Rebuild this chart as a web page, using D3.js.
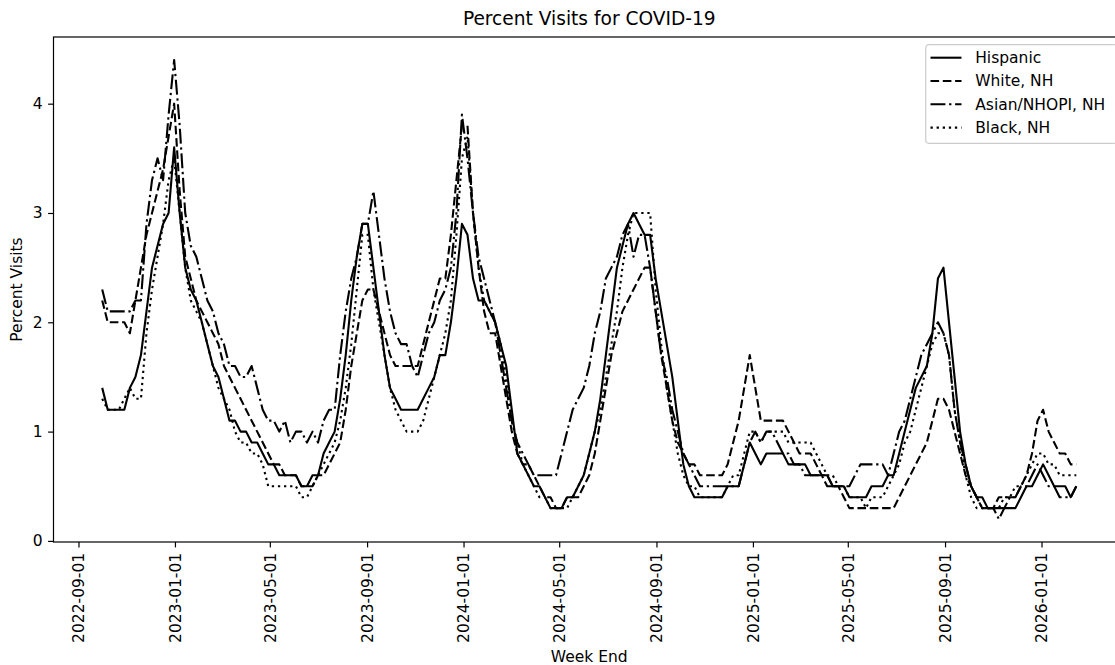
<!DOCTYPE html>
<html>

<head>
  <meta charset="utf-8">
  <script src="https://d3js.org/d3.v7.min.js"></script>
  <style>
    body {
      margin: 0;
      background: #ffffff;
    }

    text {
      font-family: "DejaVu Sans", sans-serif;
      fill: #000;
    }
  </style>
</head>

<body>
  <div id="chart"></div>
  <script>
    // week ending dates (Saturdays)
    const firstWeekEnd = "2022-10-01";
    const lastWeekEnd = "2026-02-14";

    const seriesNames = ["Hispanic", "White, NH", "Asian/NHOPI, NH", "Black, NH"];

    const hispanic = [
      1.4, 1.2, 1.2, 1.2, 1.2, 1.4, 1.5, 1.7, 2.1, 2.5,
      2.7, 2.9, 3.0, 3.6, 3.0, 2.5, 2.3, 2.2, 2.0, 1.8,
      1.6, 1.5, 1.3, 1.1, 1.1, 1.0, 1.0, 0.9, 0.9, 0.8,
      0.7, 0.7, 0.6, 0.6, 0.6, 0.6, 0.5, 0.5, 0.6, 0.6,
      0.8, 0.9, 1.0, 1.3, 1.7, 2.2, 2.6, 2.9, 2.9, 2.5,
      2.1, 1.7, 1.4, 1.3, 1.2, 1.2, 1.2, 1.2, 1.3, 1.4,
      1.5, 1.7, 1.7, 2.0, 2.4, 2.9, 2.8, 2.4, 2.2, 2.2,
      2.1, 2.0, 1.8, 1.6, 1.2, 0.8, 0.7, 0.6, 0.5, 0.5,
      0.4, 0.3, 0.3, 0.3, 0.4, 0.4, 0.5, 0.6, 0.8, 1.0,
      1.3, 1.7, 2.1, 2.5, 2.7, 2.9, 3.0, 2.9, 2.8, 2.8,
      2.4, 2.1, 1.8, 1.5, 1.1, 0.7, 0.5, 0.4, 0.4, 0.4,
      0.4, 0.4, 0.4, 0.5, 0.5, 0.5, 0.7, 0.9, 0.8, 0.7,
      0.8, 0.8, 0.8, 0.8, 0.7, 0.7, 0.7, 0.7, 0.6, 0.6,
      0.6, 0.6, 0.5, 0.5, 0.5, 0.4, 0.4, 0.4, 0.4, 0.5,
      0.5, 0.5, 0.6, 0.6, 0.8, 1.0, 1.2, 1.4, 1.5, 1.6,
      1.9, 2.4, 2.5, 2.0, 1.5, 1.0, 0.7, 0.5, 0.4, 0.4,
      0.3, 0.3, 0.3, 0.3, 0.3, 0.3, 0.4, 0.5, 0.5, 0.6,
      0.7, 0.6, 0.5, 0.5, 0.5, 0.4, 0.5
    ];

    const whiteNH = [
      2.2, 2.0, 2.0, 2.0, 2.0, 1.9, 2.2, 2.5, 2.8, 3.0,
      3.2, 3.4, 3.7, 4.0, 3.2, 2.6, 2.4, 2.2, 2.1, 2.0,
      1.9, 1.8, 1.6, 1.5, 1.4, 1.3, 1.2, 1.1, 1.0, 0.9,
      0.8, 0.7, 0.7, 0.6, 0.6, 0.6, 0.5, 0.5, 0.5, 0.6,
      0.6, 0.7, 0.8, 0.9, 1.2, 1.6, 1.9, 2.2, 2.3, 2.3,
      2.1, 1.9, 1.7, 1.6, 1.6, 1.6, 1.6, 1.6, 1.8, 2.0,
      2.2, 2.4, 2.4, 2.8, 3.3, 3.8, 3.8, 3.0, 2.5, 2.1,
      1.9, 1.9, 1.6, 1.3, 1.0, 0.8, 0.7, 0.7, 0.6, 0.5,
      0.4, 0.4, 0.3, 0.3, 0.4, 0.4, 0.4, 0.5, 0.6, 0.8,
      1.1, 1.4, 1.7, 1.9, 2.1, 2.2, 2.3, 2.4, 2.5, 2.5,
      2.1, 1.7, 1.4, 1.1, 0.9, 0.8, 0.7, 0.7, 0.6, 0.6,
      0.6, 0.6, 0.6, 0.7, 0.9, 1.1, 1.4, 1.7, 1.4, 1.1,
      1.1, 1.1, 1.1, 1.1, 1.0, 0.9, 0.8, 0.8, 0.8, 0.7,
      0.6, 0.6, 0.5, 0.5, 0.4, 0.3, 0.3, 0.3, 0.3, 0.3,
      0.3, 0.3, 0.3, 0.3, 0.4, 0.5, 0.6, 0.7, 0.8, 0.9,
      1.1, 1.3, 1.3, 1.2, 1.0, 0.8, 0.6, 0.5, 0.4, 0.3,
      0.3, 0.3, 0.4, 0.4, 0.4, 0.4, 0.5, 0.6, 0.8, 1.1,
      1.2, 1.0, 0.9, 0.8, 0.8, 0.7, 0.7
    ];

    const asianNHOPI = [
      2.3, 2.1, 2.1, 2.1, 2.1, 2.1, 2.2, 2.2, 2.9, 3.3,
      3.5, 3.3, 3.9, 4.4, 3.8, 3.0, 2.7, 2.6, 2.4, 2.2,
      2.1, 1.9, 1.8, 1.6, 1.6, 1.5, 1.5, 1.6, 1.4, 1.2,
      1.1, 1.1, 1.0, 1.1, 0.9, 1.0, 1.0, 0.9, 1.0, 0.9,
      1.1, 1.2, 1.2, 1.7, 2.1, 2.4, 2.6, 2.9, 2.9, 3.2,
      2.8, 2.4, 2.1, 1.9, 1.8, 1.8, 1.6, 1.5, 1.7, 1.9,
      2.0, 2.2, 2.3, 2.5, 3.0, 3.9, 3.5, 3.0, 2.6, 2.4,
      2.2, 2.0, 1.7, 1.4, 1.1, 0.9, 0.8, 0.7, 0.6, 0.6,
      0.6, 0.6, 0.6, 0.8, 1.0, 1.2, 1.3, 1.4, 1.6, 1.9,
      2.1, 2.4, 2.5, 2.6, 2.8, 2.9, 2.6, 2.8, 2.8, 2.5,
      2.1, 1.7, 1.5, 1.2, 1.0, 0.8, 0.7, 0.6, 0.5, 0.5,
      0.5, 0.5, 0.5, 0.5, 0.5, 0.5, 0.7, 0.9, 1.0, 0.9,
      1.0, 1.0, 0.9, 0.8, 0.8, 0.7, 0.7, 0.6, 0.6, 0.6,
      0.6, 0.5, 0.5, 0.5, 0.5, 0.5, 0.6, 0.7, 0.7, 0.7,
      0.7, 0.7, 0.6, 0.8, 1.0, 1.1, 1.3, 1.5, 1.7, 1.8,
      1.9, 2.0, 1.9, 1.7, 1.2, 0.9, 0.7, 0.5, 0.4, 0.3,
      0.3, 0.3, 0.2, 0.3, 0.4, 0.4, 0.5, 0.5, 0.6, 0.7,
      0.6, 0.5, 0.5, 0.4, 0.4, 0.4, 0.5
    ];

    const blackNH = [
      1.3, 1.2, 1.2, 1.2, 1.3, 1.4, 1.3, 1.3, 1.9, 2.3,
      2.6, 2.9, 3.3, 3.5, 3.0, 2.5, 2.2, 2.1, 2.0, 1.8,
      1.6, 1.4, 1.3, 1.2, 1.0, 0.9, 0.9, 0.8, 0.8, 0.7,
      0.5, 0.5, 0.5, 0.5, 0.5, 0.5, 0.4, 0.4, 0.5, 0.6,
      0.7, 0.8, 0.9, 1.1, 1.4, 1.8, 2.3, 2.8, 2.8, 2.3,
      2.0, 1.7, 1.4, 1.2, 1.1, 1.0, 1.0, 1.0, 1.1, 1.3,
      1.5, 1.7, 1.9, 2.2, 2.8, 3.5, 3.7, 3.0, 2.5, 2.2,
      2.1, 2.0, 1.8, 1.5, 1.1, 0.9, 0.7, 0.6, 0.5, 0.4,
      0.4, 0.3, 0.3, 0.3, 0.3, 0.4, 0.5, 0.6, 0.8, 1.0,
      1.2, 1.5, 1.8, 2.1, 2.5, 2.8, 3.0, 3.0, 3.0, 3.0,
      2.3, 1.8, 1.4, 1.1, 0.8, 0.6, 0.5, 0.5, 0.4, 0.4,
      0.4, 0.4, 0.4, 0.5, 0.6, 0.6, 0.8, 1.0, 1.0, 0.9,
      1.0, 1.0, 1.0, 1.0, 0.9, 0.9, 0.9, 0.9, 0.9, 0.8,
      0.7, 0.6, 0.6, 0.5, 0.5, 0.4, 0.4, 0.4, 0.3, 0.4,
      0.4, 0.4, 0.5, 0.6, 0.7, 0.9, 1.0, 1.2, 1.4, 1.6,
      1.8, 1.9, 1.9, 1.7, 1.2, 0.9, 0.6, 0.4, 0.3, 0.3,
      0.3, 0.3, 0.3, 0.4, 0.4, 0.5, 0.5, 0.6, 0.7, 0.8,
      0.8, 0.7, 0.7, 0.6, 0.6, 0.6, 0.6
    ];

    const yTicks = [0, 1, 2, 3, 4];
    const xTickLabels = ["2022-09-01", "2023-01-01", "2023-05-01", "2023-09-01", "2024-01-01",
      "2024-05-01", "2024-09-01", "2025-01-01", "2025-05-01", "2025-09-01", "2026-01-01"];

    // matplotlib-ish dash patterns (lw 1.5 at ~111 dpi)
    const dashes = ["none", "8.6,3.7", "14.9,3.7,2.3,3.7", "2.3,3.8"];

    var width = 1115,
      height = 665;
    var plot = { left: 53.5, right: 1125, top: 37, bottom: 542 };

    var parse = d3.utcParse("%Y-%m-%d");
    var weekEnds = d3.utcSaturday.range(parse(firstWeekEnd), d3.utcDay.offset(parse(lastWeekEnd), 1));

    var allSeries = [hispanic, whiteNH, asianNHOPI, blackNH];

    // 5% margins on both sides, like the default of the source plot
    var span = weekEnds[weekEnds.length - 1] - weekEnds[0];
    var x = d3.scaleUtc()
      .domain([new Date(+weekEnds[0] - span * 0.05), new Date(+weekEnds[weekEnds.length - 1] + span * 0.05)])
      .range([plot.left, plot.right]);

    var yMin = d3.min(allSeries, s => d3.min(s)),
      yMax = d3.max(allSeries, s => d3.max(s)),
      yPad = (yMax - yMin) * 0.05;
    var y = d3.scaleLinear()
      .domain([yMin - yPad, yMax + yPad])
      .range([plot.bottom, plot.top]);

    var svg = d3.select("#chart")
      .append("svg")
      .attr("width", width)
      .attr("height", height)
      .style("display", "block");

    svg.append("rect").attr("width", width).attr("height", height).attr("fill", "#fff");

    // Lines
    var line = d3.line()
      .x((d, i) => x(weekEnds[i]))
      .y(d => y(d));

    svg.append("g")
      .selectAll("path")
      .data(allSeries)
      .enter()
      .append("path")
      .attr("d", line)
      .attr("fill", "none")
      .attr("stroke", "#000")
      .attr("stroke-width", 2.1)
      .attr("stroke-dasharray", (d, i) => dashes[i])
      .attr("stroke-linejoin", "round");

    // X axis
    var xAxis = svg.append("g")
      .attr("transform", "translate(0," + plot.bottom + ")")
      .call(d3.axisBottom(x)
        .tickValues(xTickLabels.map(parse))
        .tickFormat(d3.utcFormat("%Y-%m-%d"))
        .tickSizeOuter(0)
        .tickSize(5.4)
        .tickPadding(5.4));
    xAxis.select(".domain").remove();
    xAxis.selectAll(".tick line").attr("stroke", "#000").attr("stroke-width", 1.2);
    xAxis.selectAll(".tick text")
      .attr("font-size", "15.5px")
      .attr("font-family", "DejaVu Sans")
      .attr("text-anchor", "end")
      .attr("dy", "0.35em")
      .attr("transform", "translate(0,10.8) rotate(-90)")
      .attr("x", 0)
      .attr("y", 0);

    // Y axis
    var yAxis = svg.append("g")
      .attr("transform", "translate(" + plot.left + ",0)")
      .call(d3.axisLeft(y)
        .tickValues(yTicks)
        .tickFormat(d3.format("d"))
        .tickSizeOuter(0)
        .tickSize(5.4)
        .tickPadding(5.4));
    yAxis.select(".domain").remove();
    yAxis.selectAll(".tick line").attr("stroke", "#000").attr("stroke-width", 1.2);
    yAxis.selectAll(".tick text")
      .attr("font-size", "15.5px")
      .attr("font-family", "DejaVu Sans");

    // Frame (right spine falls outside the picture)
    svg.append("rect")
      .attr("x", plot.left)
      .attr("y", plot.top)
      .attr("width", plot.right - plot.left)
      .attr("height", plot.bottom - plot.top)
      .attr("fill", "none")
      .attr("stroke", "#000")
      .attr("stroke-width", 1.2);

    // Titles
    var midX = (plot.left + plot.right) / 2;
    svg.append("text")
      .attr("x", midX)
      .attr("y", 25)
      .attr("text-anchor", "middle")
      .attr("font-size", "18.6px")
      .text("Percent Visits for COVID-19");

    svg.append("text")
      .attr("x", midX)
      .attr("y", 662)
      .attr("text-anchor", "middle")
      .attr("font-size", "15.5px")
      .text("Week End");

    svg.append("text")
      .attr("transform", "translate(22," + (plot.top + plot.bottom) / 2 + ") rotate(-90)")
      .attr("text-anchor", "middle")
      .attr("font-size", "15.5px")
      .text("Percent Visits");

    // Legend
    var legend = svg.append("g").attr("transform", "translate(925.7,44.7)");
    legend.append("rect")
      .attr("width", 191.6)
      .attr("height", 98.6)
      .attr("rx", 3)
      .attr("fill", "#fff")
      .attr("fill-opacity", 0.8)
      .attr("stroke", "#cccccc")
      .attr("stroke-width", 1.2);

    var rows = legend.selectAll("g.row")
      .data(seriesNames)
      .enter()
      .append("g")
      .attr("class", "row")
      .attr("transform", (d, i) => "translate(0," + (13 + i * 23.3) + ")");

    rows.append("line")
      .attr("x1", 4.8)
      .attr("x2", 35.8)
      .attr("stroke", "#000")
      .attr("stroke-width", 2.1)
      .attr("stroke-dasharray", (d, i) => dashes[i]);

    rows.append("text")
      .attr("x", 49.5)
      .attr("dy", "0.35em")
      .attr("font-size", "15.5px")
      .text(d => d);
  </script>
</body>

</html>
